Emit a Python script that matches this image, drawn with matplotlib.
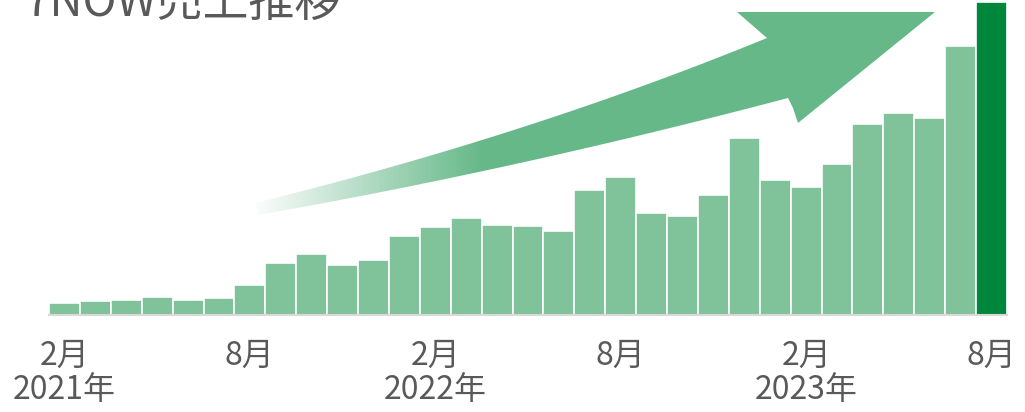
import numpy as np
import matplotlib
matplotlib.use("Agg")
import matplotlib.pyplot as plt
from matplotlib.path import Path
from matplotlib.patches import PathPatch

plt.rcParams['font.family'] = ['Noto Sans CJK JP', 'DejaVu Sans']

# monthly sales, Feb 2021 - Aug 2023 (relative units)
months = list(range(31))
sales = [12, 14, 15, 18, 15, 17, 30, 52, 61, 50, 55, 79,
         88, 97, 90, 89, 84, 125, 138, 102, 99, 120, 177, 135,
         128, 151, 191, 202, 197, 269, 313]
tick_pos = [0, 6, 12, 18, 24, 30]
tick_labels = ['2月\n2021年', '8月', '2月\n2022年', '8月', '2月\n2023年', '8月']

bar_color = '#80C39B'
last_color = '#00873C'
arrow_color = '#66B889'
text_color = '#595959'

W, H = 1025, 412
fig = plt.figure(figsize=(W / 100, H / 100), dpi=100)

# overlay in pixel coords for the decorative arrow
ov = fig.add_axes([0, 0, 1, 1], zorder=0)
ov.set_xlim(0, W)
ov.set_ylim(H, 0)
ov.axis('off')

ax = fig.add_axes([49 / W, (H - 315) / H, 958 / W, 315 / H], zorder=1)
ax.patch.set_alpha(0)

colors = [bar_color] * (len(sales) - 1) + [last_color]
ax.bar(months, sales, width=1.0, color=colors, edgecolor='white', linewidth=1.2)
ax.set_xlim(-0.5, 30.5)
ax.set_ylim(0, 315)
for s in ['top', 'right', 'left']:
    ax.spines[s].set_visible(False)
ax.spines['bottom'].set_color('#d9d9d9')
ax.spines['bottom'].set_linewidth(1.5)
ax.set_yticks([])
ax.set_xticks(tick_pos)
ax.set_xticklabels(tick_labels, fontsize=23, color=text_color, linespacing=1.1)
ax.tick_params(axis='x', length=0, pad=18)

# curved growth arrow with fading tail
def quad(p0, c, p2, n=40):
    t = np.linspace(0, 1, n)[:, None]
    return (1 - t) ** 2 * np.array(p0) + 2 * (1 - t) * t * np.array(c) + t ** 2 * np.array(p2)

upper = quad((255, 203), (529, 135.5), (767, 38))
lower = quad((258, 215), (517, 169.5), (788, 98))[::-1]
head = np.array([(737, 12), (935, 12), (798, 123)])
notch = np.array([(793, 108)])
verts = np.vstack([upper, head, notch, lower, upper[:1]])
clip = PathPatch(Path(verts), facecolor='none', edgecolor='none')
ov.add_patch(clip)

rgb = matplotlib.colors.to_rgb(arrow_color)
xs = np.arange(W)
alpha = np.clip((xs - 250) / (480 - 250), 0, 1)
img = np.zeros((H, W, 4))
img[..., :3] = rgb
img[..., 3] = alpha[None, :]
im = ov.imshow(img, extent=[0, W, H, 0], aspect='auto', interpolation='bilinear')
im.set_clip_path(clip)
ov.set_xlim(0, W)
ov.set_ylim(H, 0)

fig.text(25 / W, 1 - 16 / H, '7NOW売上推移', fontsize=33, color=text_color,
         va='baseline', ha='left')

fig.savefig('out.png', dpi=100)
